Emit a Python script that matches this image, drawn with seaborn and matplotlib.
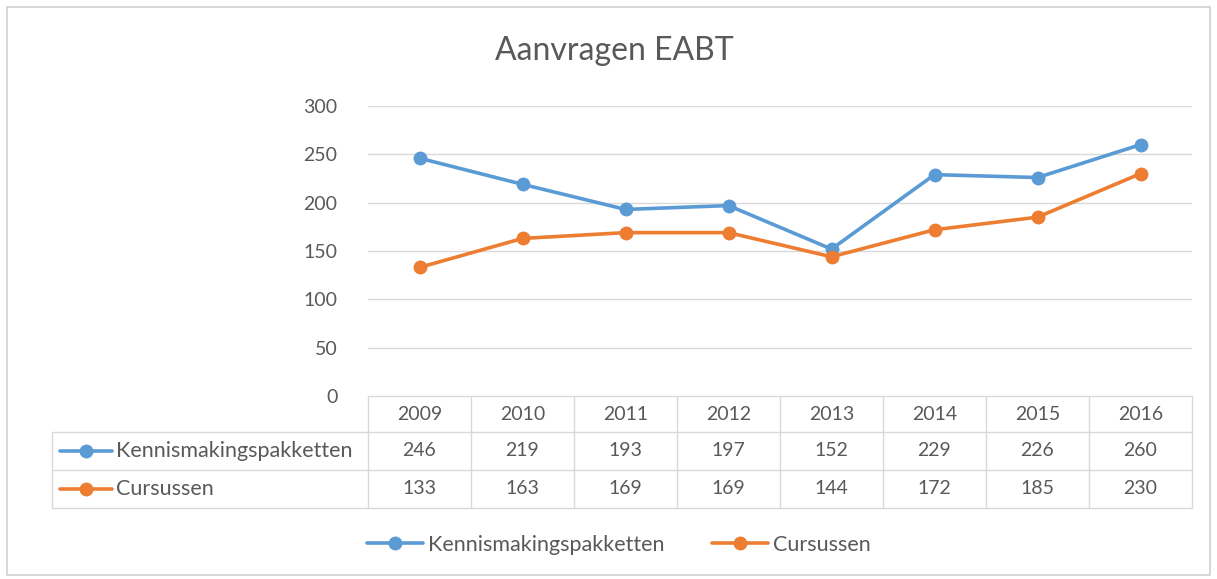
import numpy as np
import pandas as pd
import matplotlib
matplotlib.use('Agg')
import matplotlib.pyplot as plt
import seaborn as sns
from matplotlib.lines import Line2D
from matplotlib.patches import Rectangle
from matplotlib.transforms import blended_transform_factory

# ── Data ──────────────────────────────────────────────
years   = ['2009', '2010', '2011', '2012', '2013', '2014', '2015', '2016']
kennis  = [246, 219, 193, 197, 152, 229, 226, 260]
cursus  = [133, 163, 169, 169, 144, 172, 185, 230]
series_names = ['Kennismakingspakketten', 'Cursussen']
colors  = ['#5B9BD5', '#ED7D31']
y_ticks = [0, 50, 100, 150, 200, 250, 300]
title   = 'Aanvragen EABT'

txt = '#595959'
grid = '#D9D9D9'

sns.set_theme(style='white')
plt.rcParams['font.family'] = ['Lato', 'DejaVu Sans']

df = pd.DataFrame({
    'Jaar': years * 2,
    'Aantal': kennis + cursus,
    'Reeks': [series_names[0]] * len(years) + [series_names[1]] * len(years),
})

fig = plt.figure(figsize=(12.17, 5.79), dpi=100)
ax = fig.add_axes([368/1217, 1-396/579, (1192-368)/1217, 290/579])

sns.lineplot(data=df, x='Jaar', y='Aantal', hue='Reeks', palette=colors,
             marker='o', markersize=10, markeredgewidth=0, linewidth=2.6,
             sort=False, ax=ax, legend=False)

ax.set_xlim(-0.5, len(years) - 0.5)
ax.set_ylim(0, 300)
ax.set_yticks(y_ticks)
ax.set_yticklabels([str(v) for v in y_ticks], color=txt, fontsize=14)
ax.tick_params(axis='y', length=0, pad=22)
ax.set_xticks([])
ax.set_xlabel(''); ax.set_ylabel('')
for s in ax.spines.values():
    s.set_visible(False)
for v in y_ticks[1:]:
    ax.axhline(v, color=grid, linewidth=1, zorder=0)

# ── Data table below the plot ─────────────────────────
tr = blended_transform_factory(ax.transData, ax.transAxes)
left = -0.5 - (368-52)/103
rows_y = [0, -36/290, -74/290, -112/290]
lkw = dict(color=grid, linewidth=1, transform=tr, clip_on=False)

ax.add_line(Line2D([-0.5, len(years)-0.5], [0, 0], **lkw))
for y in rows_y[1:]:
    ax.add_line(Line2D([left, len(years)-0.5], [y, y], **lkw))
for i in range(len(years) + 1):
    ax.add_line(Line2D([i-0.5, i-0.5], [0, rows_y[-1]], **lkw))
ax.add_line(Line2D([left, left], [rows_y[1], rows_y[-1]], **lkw))

for i, yr in enumerate(years):
    ax.text(i, (rows_y[0]+rows_y[1])/2, yr, ha='center', va='center',
            color=txt, fontsize=14, transform=tr)
for r, (vals, name, col) in enumerate(zip([kennis, cursus], series_names, colors)):
    yc = (rows_y[r+1] + rows_y[r+2]) / 2
    for i, v in enumerate(vals):
        ax.text(i, yc, str(v), ha='center', va='center', color=txt,
                fontsize=14, transform=tr)
    x0 = -0.5 - (368-60)/103
    x1 = -0.5 - (368-112)/103
    ax.add_line(Line2D([x0, x1], [yc, yc], color=col, linewidth=2.6,
                       transform=tr, clip_on=False))
    ax.add_line(Line2D([(x0+x1)/2], [yc], color=col, marker='o', markersize=10,
                       markeredgewidth=0, transform=tr, clip_on=False))
    ax.text(x1 + 0.04, yc, name, ha='left', va='center', color=txt,
            fontsize=15.5, transform=tr)

# ── Legend ────────────────────────────────────────────
handles = [Line2D([0], [0], color=c, linewidth=2.6, marker='o', markersize=10,
                  markeredgewidth=0) for c in colors]
fig.legend(handles, series_names, loc='center', bbox_to_anchor=(619/1217, 1-545/579),
           ncol=2, frameon=False, handlelength=2.6, handletextpad=0.25,
           columnspacing=2.2, numpoints=1, labelcolor=txt, fontsize=15.5)

fig.text(614/1217, 1-51/579, title, ha='center', va='center', color=txt, fontsize=23)

fig.add_artist(Rectangle((7/1217, 4/579), 1203/1217, 568/579, transform=fig.transFigure,
                         fill=False, edgecolor='#D0D0D0', linewidth=1.2))

fig.savefig('out.png', dpi=100, facecolor='white')
